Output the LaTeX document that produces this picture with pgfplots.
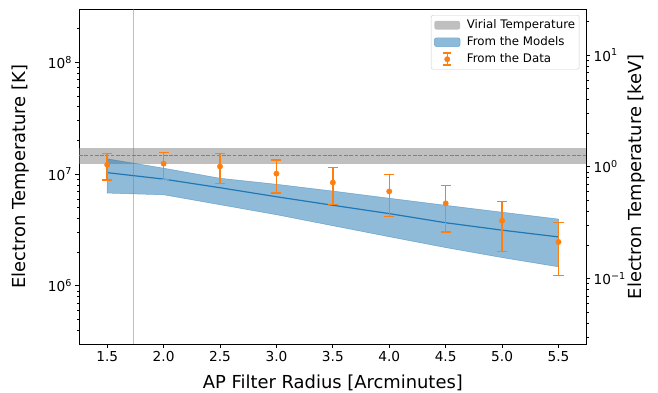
\documentclass[border=0pt]{standalone}
\usepackage{fontspec}
\setmainfont{DejaVu Sans}
\usepackage{pgfplots}
\pgfplotsset{compat=1.18}
\definecolor{c0}{HTML}{1F77B4}
\definecolor{c1}{HTML}{FF7F0E}

\pgfplotstableread{
x   y       ep      em
1.5 1.21e7  3.2e6   3.26e6
2.0 1.24e7  3.2e6   3.5e6
2.5 1.17e7  3.6e6   3.5e6
3.0 1.01e7  3.3e6   3.34e6
3.5 8.4e6   3.1e6   3.04e6
4.0 7.0e6   2.9e6   2.84e6
4.5 5.47e6  2.43e6  2.44e6
5.0 3.83e6  1.83e6  1.81e6
5.5 2.47e6  1.23e6  1.23e6
}\datatable

\pgfplotstableread{
x   y
1.5 1.03e7
2.0 9.02e6
2.5 7.55e6
3.0 6.27e6
3.5 5.26e6
4.0 4.43e6
4.5 3.67e6
5.0 3.15e6
5.5 2.74e6
}\modeltable

\begin{document}
\begin{tikzpicture}
\begin{axis}[
  name=main,
  scale only axis, width=507.7pt, height=335.3pt,
  xmin=1.25, xmax=5.75,
  ymode=log, ymin=3e5, ymax=3e8,
  tick pos=left, tick align=outside,
  major tick length=3.5pt, minor tick length=2pt,
  major tick style={line width=0.8pt, black},
  minor tick style={line width=0.6pt, black},
  axis line style={line width=0.8pt},
  xtick={1.5,2,2.5,3,3.5,4,4.5,5,5.5},
  xticklabels={1.5,2.0,2.5,3.0,3.5,4.0,4.5,5.0,5.5},
  ytick={1e6,1e7,1e8},
  yticklabels={10\textsuperscript{6},10\textsuperscript{7},10\textsuperscript{8}},
  minor ytick={4e5,5e5,6e5,7e5,8e5,9e5,2e6,3e6,4e6,5e6,6e6,7e6,8e6,9e6,2e7,3e7,4e7,5e7,6e7,7e7,8e7,9e7,2e8},
  ticklabel style={font=\fontsize{13.7}{16}\selectfont},
  xlabel={AP Filter Radius [Arcminutes]},
  ylabel={Electron Temperature [K]},
  label style={font=\fontsize{17.9}{21}\selectfont},
  xlabel style={at={(axis description cs:0.5,-0.1154)}, anchor=center},
  ylabel style={at={(axis description cs:-0.1152,0.5)}, anchor=center},
  legend cell align=left,
  legend style={at={(0.9854,0.982)}, anchor=north east, draw=black!20, fill=white,
    rounded corners=2pt, font=\fontsize{11.8}{14}\selectfont,
    inner xsep=3pt, inner ysep=1.5pt, row sep=0pt,
    /tikz/every odd column/.append style={column sep=5.5pt},
    nodes={inner ysep=0pt, inner xsep=1pt, text height=12pt, text depth=5pt}},
]
% virial temperature band
\addplot[draw=none, fill=gray, fill opacity=0.5,
  legend image code/.code={\fill[gray, fill opacity=0.5] (0pt,-4.3pt) rectangle (25.7pt,4.3pt);}]
  coordinates {(1.25,1.24e7) (5.75,1.24e7) (5.75,1.72e7) (1.25,1.72e7)} -- cycle;
\addlegendentry{Virial Temperature}
\addplot[forget plot, black!50, line width=1pt, dash pattern=on 3.7pt off 1.6pt]
  coordinates {(1.25,1.46e7) (5.75,1.46e7)};
% model band
\addplot[draw=c0, draw opacity=0.5, line width=0.5pt, fill=c0, fill opacity=0.5,
  legend image code/.code={\fill[c0, fill opacity=0.5] (0pt,-4.3pt) rectangle (25.7pt,4.3pt);}]
  coordinates {(1.5,1.37e7) (2.0,1.13e7) (2.5,9.18e6) (3.0,8.11e6) (3.5,7.05e6)
    (4.0,6.08e6) (4.5,5.26e6) (5.0,4.56e6) (5.5,3.96e6)
    (5.5,1.48e6) (5.0,1.79e6) (4.5,2.20e6) (4.0,2.75e6) (3.5,3.45e6)
    (3.0,4.33e6) (2.5,5.32e6) (2.0,6.53e6) (1.5,6.76e6)} -- cycle;
\addlegendentry{From the Models}
\addplot[forget plot, c0, line width=1.2pt] table[x=x, y=y] {\modeltable};
\addplot[forget plot, gray, opacity=0.5, line width=1.3pt]
  coordinates {(1.735,3e5) (1.735,3e8)};
% data
\addplot[only marks, mark=*, mark size=2.7pt, c1, mark options={draw=c1, fill=c1},
  error bars/.cd, y dir=both, y explicit,
  error bar style={line width=1.5pt, c1},
  error mark options={line width=1.5pt, c1, mark size=5pt, rotate=90},
  /pgfplots/legend image code/.code={
    \path (0pt,0pt) (25.7pt,0pt);
    \draw[c1, line width=1.5pt] (12.85pt,-6pt) -- (12.85pt,6pt);
    \draw[c1, line width=1.5pt] (8.7pt,-6pt) -- (17pt,-6pt) (8.7pt,6pt) -- (17pt,6pt);
    \fill[c1] (12.85pt,0pt) circle (2.7pt);}]
  table[x=x, y=y, y error plus=ep, y error minus=em] {\datatable};
\addlegendentry{From the Data}
\end{axis}
\begin{axis}[
  scale only axis, width=507.7pt, height=335.3pt,
  xmin=1.25, xmax=5.75,
  ymode=log, ymin=0.025851, ymax=25.851,
  axis y line*=right, axis x line=none,
  tick align=outside,
  major tick length=3.5pt, minor tick length=2pt,
  major tick style={line width=0.8pt, black},
  minor tick style={line width=0.6pt, black},
  axis line style={line width=0.8pt},
  ytick={0.1,1,10},
  yticklabels={10\textsuperscript{−1},10\textsuperscript{0},10\textsuperscript{1}},
  minor ytick={0.03,0.04,0.05,0.06,0.07,0.08,0.09,0.2,0.3,0.4,0.5,0.6,0.7,0.8,0.9,2,3,4,5,6,7,8,9,20},
  ticklabel style={font=\fontsize{13.7}{16}\selectfont},
  ylabel={Electron Temperature [keV]},
  label style={font=\fontsize{17.9}{21}\selectfont},
  ylabel style={at={(axis description cs:1.0981,0.5)}, anchor=center},
]
\end{axis}
\pgfresetboundingbox
\useasboundingbox ([shift={(-79pt,-47.7pt)}]main.south west) rectangle ([shift={(71.3pt,9pt)}]main.north east);
\end{tikzpicture}
\end{document}
